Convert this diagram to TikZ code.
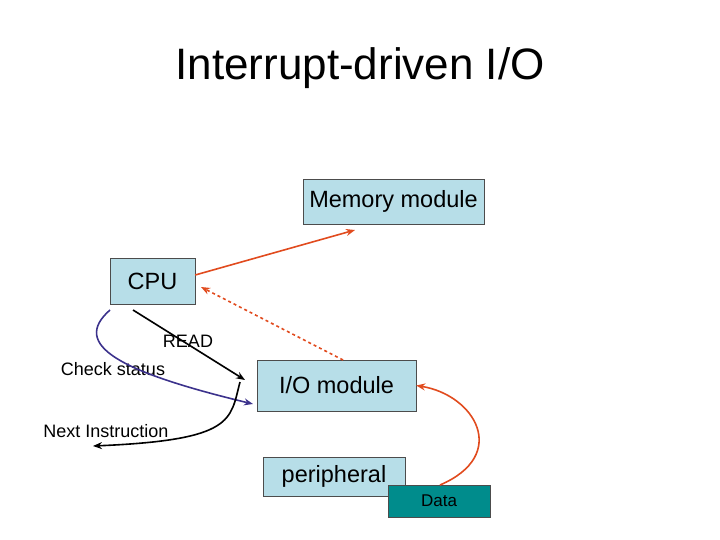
\documentclass[tikz,border=0pt]{standalone}
\usepackage{fontspec}
\setmainfont{Liberation Sans}
\usetikzlibrary{arrows.meta}
\definecolor{boxc}{RGB}{183,222,232}
\definecolor{teal2}{RGB}{0,140,140}
\definecolor{org}{RGB}{225,75,30}
\definecolor{blu}{RGB}{60,50,140}
\begin{document}
\begin{tikzpicture}[x=1pt,y=-1pt,
 box/.style={draw=black!70,fill=boxc,inner sep=0,font=\fontsize{23.5}{26}\selectfont},
 lab/.style={font=\fontsize{18}{20}\selectfont},
 arr/.style={-{Stealth[length=9pt,width=7pt]},line width=1.6pt}]
\useasboundingbox (0,0) rectangle (720,540);
\node[font=\fontsize{44}{50}\selectfont] (title) at (360,68) {Interrupt-driven I/O};
\node[box,minimum width=181,minimum height=45] (mem) at (393.5,201.5) {Memory module};
\node[box,minimum width=85,minimum height=46] (cpu) at (152.5,281) {CPU};
\node[box,minimum width=159,minimum height=51] (io) at (336.5,385.5) {I/O module};
\node[box,minimum width=142,minimum height=39] (per) at (334,476.5) {peripheral};
\node[draw=black!70,fill=teal2,inner sep=0,minimum width=102,minimum height=32,font=\fontsize{17}{19}\selectfont] (data) at (439,501) {Data};
\node[lab] (read) at (188,341) {READ};
\node[lab] (chk) at (113,369) {Check status};
\node[lab] (next) at (106,431) {Next Instruction};
\coordinate (a1) at (133,310);
\coordinate (a2) at (245,380);
\coordinate (b1) at (110,310);
\coordinate (b2) at (253,404);
\coordinate (c1) at (240,382);
\coordinate (c2) at (93,446);
\draw[arr,org] (cpu.east|-0,275) -- (355,230);
\draw[arr,org,dashed] (343,360) -- (201,287);
\draw[arr,black] (a1) -- (a2);
\draw[arr,blu] (b1) .. controls (70,345) and (120,372) .. (b2);
\draw[arr,black] (c1) .. controls (230,420) and (235,440) .. (c2);
\draw[arr,org] (440,485) .. controls (510,455) and (475,395) .. (io.east);
\end{tikzpicture}
\end{document}
